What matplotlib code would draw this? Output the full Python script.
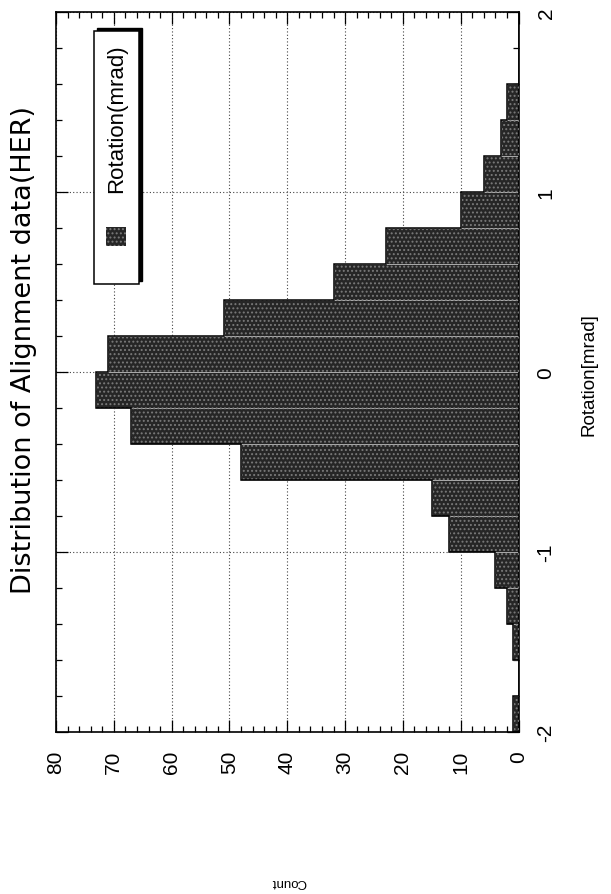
import matplotlib
matplotlib.use('Agg')
import matplotlib.pyplot as plt
from matplotlib.patches import Rectangle
from matplotlib.ticker import MultipleLocator

# histogram of rotation values (bin lower edges, bin width 0.2 mrad)
bin_lo = [-2.0, -1.8, -1.6, -1.4, -1.2, -1.0, -0.8, -0.6, -0.4, -0.2,
          0.0, 0.2, 0.4, 0.6, 0.8, 1.0, 1.2, 1.4, 1.6, 1.8]
bin_edges = bin_lo + [2.0]
counts = [1, 0, 1, 2, 4, 12, 15, 48, 67, 73,
          71, 51, 32, 23, 10, 6, 3, 2, 0, 0]
count_ticks = [0, 10, 20, 30, 40, 50, 60, 70, 80]
rot_ticks = [-2, -1, 0, 1, 2]

title = 'Distribution of Alignment data(HER)'
xlabel = 'Rotation[mrad]'
ylabel = 'Count'
series_name = 'Rotation(mrad)'

W, H = 611, 895
def fx(x): return x / W
def fy(y): return 1 - y / H

plt.rcParams['font.family'] = ['Liberation Sans', 'DejaVu Sans']
plt.rcParams['axes.unicode_minus'] = False
plt.rcParams['hatch.linewidth'] = 0.9

fig = plt.figure(figsize=(W / 100, H / 100), dpi=100)
fig.patch.set_facecolor('white')

# the page is scanned rotated by 90 degrees: count runs right->left, rotation bottom->top
ax = fig.add_axes([fx(56), fy(733), (518.5 - 56) / W, (733 - 13) / H])
ax.set_xlim(80, 0)
ax.set_ylim(-2, 2)

bar_face = '#262626'
ax.barh(bin_lo, counts, height=0.2, align='edge', color=bar_face,
        edgecolor='#b5b5b5', linewidth=0.6, zorder=2)
ax.barh(bin_lo, counts, height=0.2, align='edge', facecolor='none',
        edgecolor='#7a7a7a', hatch='....', linewidth=0, zorder=3)
ax.stairs(counts, bin_edges, orientation='horizontal', color='black',
          linewidth=1.1, zorder=4)

ax.set_xticks(count_ticks)
ax.set_yticks(rot_ticks)
ax.xaxis.set_minor_locator(MultipleLocator(2))
ax.yaxis.set_minor_locator(MultipleLocator(0.2))
ax.grid(True, which='major', linestyle=(0, (1, 2)), color='#444444', linewidth=0.8)
ax.set_axisbelow(True)

ax.tick_params(which='both', direction='in', top=True, bottom=True,
               left=True, right=True, labelleft=False, labelright=True,
               labelbottom=True, color='black', width=0.9)
ax.tick_params(which='major', length=8.5)
ax.tick_params(which='minor', length=4)
ax.tick_params(axis='x', labelrotation=90, labelsize=15, pad=13)
ax.tick_params(axis='y', labelrotation=90, labelsize=15, pad=13)
for lab in ax.get_yticklabels():
    lab.set_verticalalignment('center')
for sp in ax.spines.values():
    sp.set_linewidth(1.2)

# texts (rotated with the page)
fig.text(fx(24), fy(350), title, rotation=90, ha='center', va='center',
         fontsize=19.5, family=['DejaVu Sans'])
fig.text(fx(589), fy(375), xlabel, rotation=90, ha='center', va='center',
         fontsize=13.5)
fig.text(fx(289), fy(882), ylabel, rotation=180, ha='center', va='center',
         fontsize=9.5)

# legend box with shadow
fig.patches.append(Rectangle((fx(97), fy(282)), 45 / W, 253 / H,
                             transform=fig.transFigure, facecolor='black',
                             edgecolor='black', zorder=5))
fig.patches.append(Rectangle((fx(94), fy(285)), 45 / W, 253 / H,
                             transform=fig.transFigure, facecolor='white',
                             edgecolor='black', linewidth=1.1, zorder=6))
fig.patches.append(Rectangle((fx(106), fy(247)), 20 / W, 19 / H,
                             transform=fig.transFigure, facecolor=bar_face,
                             edgecolor='#7a7a7a', hatch='....', linewidth=0,
                             zorder=7))
fig.text(fx(117), fy(119), series_name, rotation=90, ha='center',
         va='center', fontsize=16, zorder=8)

fig.savefig('out.png', dpi=100)
